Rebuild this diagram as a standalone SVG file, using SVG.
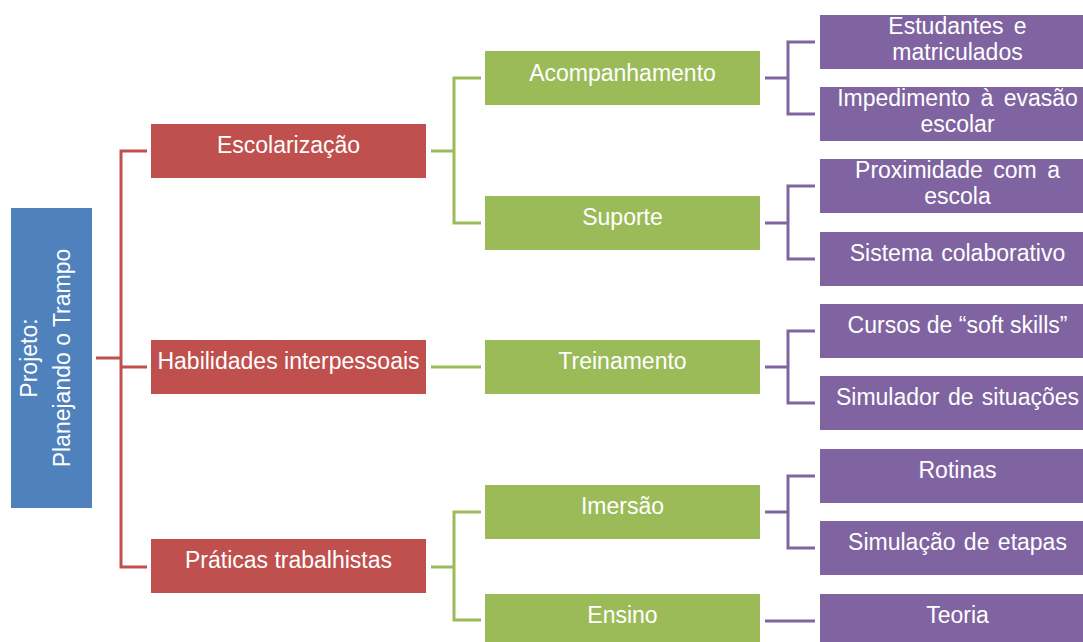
<svg xmlns="http://www.w3.org/2000/svg" width="1083" height="642" viewBox="0 0 1083 642">
<style>
text{font-family:"Liberation Sans",Arial,sans-serif;font-size:23px;fill:#fff;text-anchor:middle}
.root{fill:#4F81BD}
.red{fill:#C0504D}
.green{fill:#9BBB59}
.purple{fill:#8064A2}
.c{fill:none;stroke-width:3}
.cr{stroke:#C0504D}
.cg{stroke:#9BBB59}
.cp{stroke:#8064A2}
</style>
<rect width="1083" height="642" fill="#fff"/>
<g id="connectors">
<path class="c cr" d="M96 358H121M147 151H121V567H147M121 367H147"/>
<path class="c cg" d="M431 151H454M481 78H454V223H481M431 367H481M431 567H454M481 512H454V620H481"/>
<path class="c cp" d="M765 78H788M815 42H788V114H815M765 223H788M815 186H788V259H815M765 367H788M815 331H788V403H815M765 512H788M815 476H788V548H815M765 621H815"/>
</g>
<g id="root"><rect class="root" x="11" y="208" width="81" height="300"/>
<text transform="translate(37,358) rotate(-90)">Projeto:</text>
<text transform="translate(70,358) rotate(-90)">Planejando o Trampo</text></g>
<g id="escolarizacao"><rect class="red" x="151" y="124" width="275" height="54"/><text x="288.5" y="153">Escolarização</text></g>
<g id="habilidades"><rect class="red" x="151" y="340" width="275" height="54"/><text x="288.5" y="369">Habilidades interpessoais</text></g>
<g id="praticas"><rect class="red" x="151" y="539" width="275" height="54"/><text x="288.5" y="568">Práticas trabalhistas</text></g>
<g id="acompanhamento"><rect class="green" x="485" y="51" width="275" height="54"/><text x="622.5" y="81">Acompanhamento</text></g>
<g id="suporte"><rect class="green" x="485" y="196" width="275" height="54"/><text x="622.5" y="225">Suporte</text></g>
<g id="treinamento"><rect class="green" x="485" y="340" width="275" height="54"/><text x="622.5" y="369">Treinamento</text></g>
<g id="imersao"><rect class="green" x="485" y="485" width="275" height="54"/><text x="622.5" y="514">Imersão</text></g>
<g id="ensino"><rect class="green" x="485" y="594" width="275" height="54"/><text x="622.5" y="623">Ensino</text></g>
<g id="estudantes"><rect class="purple" x="820" y="15" width="275" height="54"/><text x="957.5" y="34" word-spacing="4">Estudantes e</text><text x="957.5" y="60">matriculados</text></g>
<g id="impedimento"><rect class="purple" x="820" y="87" width="275" height="54"/><text x="957.5" y="106" word-spacing="4">Impedimento à evasão</text><text x="957.5" y="132">escolar</text></g>
<g id="proximidade"><rect class="purple" x="820" y="159" width="275" height="54"/><text x="957.5" y="178" word-spacing="4">Proximidade com a</text><text x="957.5" y="204">escola</text></g>
<g id="sistema"><rect class="purple" x="820" y="232" width="275" height="54"/><text x="957.5" y="261" word-spacing="2">Sistema colaborativo</text></g>
<g id="cursos"><rect class="purple" x="820" y="304" width="275" height="54"/><text x="957.5" y="333">Cursos de “soft skills”</text></g>
<g id="simulador"><rect class="purple" x="820" y="376" width="275" height="54"/><text x="957.5" y="405" word-spacing="2">Simulador de situações</text></g>
<g id="rotinas"><rect class="purple" x="820" y="449" width="275" height="54"/><text x="957.5" y="478">Rotinas</text></g>
<g id="simulacao"><rect class="purple" x="820" y="521" width="275" height="54"/><text x="957.5" y="550" word-spacing="2">Simulação de etapas</text></g>
<g id="teoria"><rect class="purple" x="820" y="594" width="275" height="54"/><text x="957.5" y="623">Teoria</text></g>
</svg>
